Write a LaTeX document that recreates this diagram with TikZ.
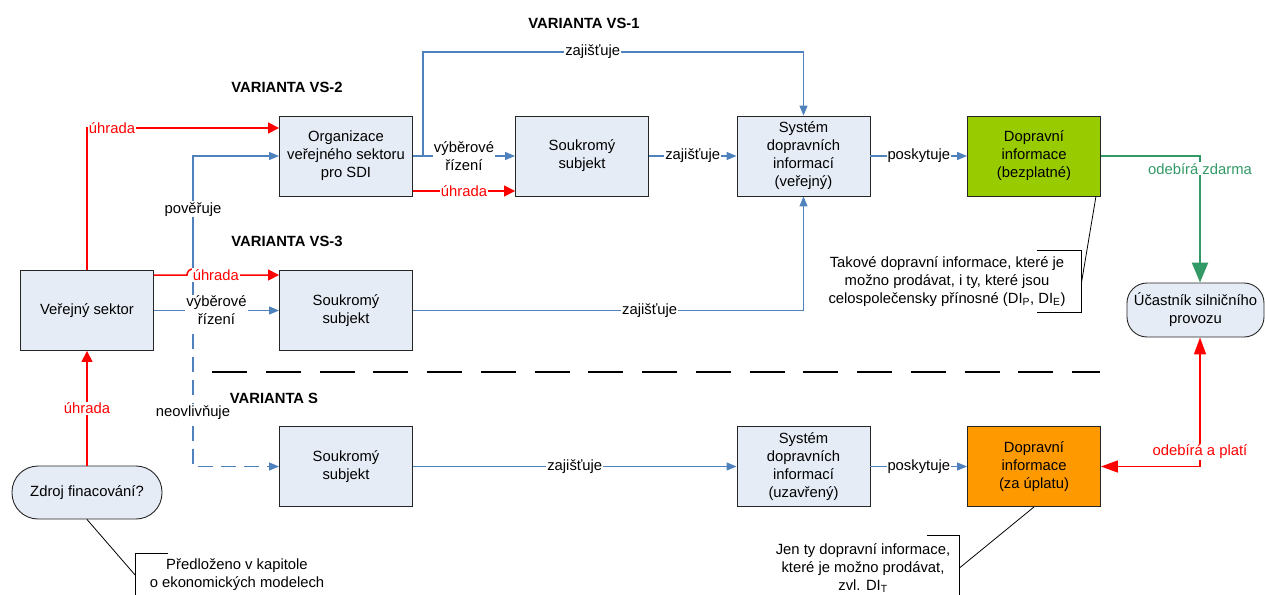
\documentclass[tikz,border=0pt]{standalone}
\usepackage{fontspec}
\setmainfont{Liberation Sans}
\usetikzlibrary{arrows.meta}
\definecolor{boxfill}{RGB}{230,236,246}
\definecolor{linkblue}{RGB}{79,129,189}
\definecolor{freegreen}{RGB}{153,204,0}
\definecolor{paidorange}{RGB}{255,153,0}
\definecolor{takegreen}{RGB}{51,153,102}
\begin{document}
\begin{tikzpicture}[x=1pt,y=-1pt,
  every node/.style={font=\fontsize{14.8}{18}\selectfont, align=center},
  box/.style={draw=black!85, line width=0.9pt, fill=boxfill,
    minimum width=133pt, minimum height=80pt, inner sep=2pt},
  pill/.style={draw=black!85, line width=0.9pt, fill=boxfill, inner sep=2pt},
  variant/.style={font=\fontsize{14.8}{18}\selectfont\bfseries},
  bl/.style={draw=linkblue, line width=1.2pt, -{Triangle[length=10pt,width=8pt]}},
  rd/.style={draw=red, line width=1.5pt, -{Triangle[length=11pt,width=11pt]}},
  lbl/.style={fill=white, inner sep=1pt},
  callout/.style={draw=black, line width=0.8pt}
]
\useasboundingbox (0,0) rectangle (1265,594);

% section headings
\node[variant] (hv1) at (584,23) {VARIANTA VS-1};
\node[variant] (hv2) at (287,87) {VARIANTA VS-2};
\node[variant] (hv3) at (287,241) {VARIANTA VS-3};
\node[variant] (hvs) at (274,398) {VARIANTA S};

% separator between public and private variants
\draw[black, line width=2pt, dash pattern=on 35pt off 18.75pt] (212,372) -- (1100,372);

% boxes
\node[box] (vs)   at (87,310.5)    {Veřejný sektor};
\node[box] (org)  at (346,156)     {Organizace\\veřejného sektoru\\pro SDI};
\node[box] (sub2) at (582,156)     {Soukromý\\subjekt};
\node[box] (sys1) at (803.5,156)   {Systém\\dopravních\\informací\\(veřejný)};
\node[box, fill=freegreen] (dig) at (1034,156) {Dopravní\\informace\\(bezplatné)};
\node[box] (sub3) at (346,310.5)   {Soukromý\\subjekt};
\node[box] (subS) at (346,466.5)   {Soukromý\\subjekt};
\node[box] (sysS) at (803.5,466.5) {Systém\\dopravních\\informací\\(uzavřený)};
\node[box, fill=paidorange] (dio) at (1034,466.5) {Dopravní\\informace\\(za úplatu)};
\node[pill, minimum width=137pt, minimum height=54pt, rounded corners=20pt] (ucast) at (1195.5,310) {Účastník silničního\\provozu};
\node[pill, minimum width=150pt, minimum height=53pt, rounded corners=26pt] (zdroj) at (87,492.5) {Zdroj finacování?};

% branch points
\coordinate (jB) at (193,310.5);
\coordinate (jT) at (423,156);
\coordinate (hopL) at (187,275);

% public sector assignments
\draw[bl] (jB) |- node[lbl, pos=0.328] {pověřuje} (org.west);
\draw[bl, dash pattern=on 15pt off 8pt] (jB) |- node[lbl, pos=0.326] {neovlivňuje} (subS.west);
\draw[bl] (vs.east) -- node[lbl] {výběrové\\řízení} (sub3.west);
\draw[rd] ([yshift=35.5pt]vs.east) -- (hopL) arc[start angle=180, end angle=0, radius=6pt]
  -- node[lbl, text=red, pos=0.21] {úhrada} ([yshift=35.5pt]sub3.west);
\draw[rd] (vs.north) |- node[lbl, text=red, pos=0.565] {úhrada} ([yshift=28pt]org.west);

% variant VS-1 / VS-2
\draw[bl] (jT) -- ++(0,-104) -| node[lbl, pos=0.223] {zajišťuje} (sys1.north);
\draw[bl] (org.east) -- node[lbl] {výběrové\\řízení} (sub2.west);
\draw[rd] ([yshift=-35pt]org.east) -- node[lbl, text=red] {úhrada} ([yshift=-35pt]sub2.west);
\draw[bl] (sub2.east) -- node[lbl] {zajišťuje} (sys1.west);
\draw[bl] (sys1.east) -- node[lbl] {poskytuje} (dig.west);

% variant VS-3
\draw[bl] (sub3.east) -| node[lbl, pos=0.303] {zajišťuje} (sys1.south);

% variant S
\draw[bl] (subS.east) -- node[lbl] {zajišťuje} (sysS.west);
\draw[bl] (sysS.east) -- node[lbl] {poskytuje} (dio.west);

% road user
\draw[draw=takegreen, line width=2.4pt, -{Triangle[length=20pt,width=16pt]}]
  (dig.east) -| node[lbl, text=takegreen, pos=0.55] {odebírá zdarma} ([xshift=4.5pt]ucast.north);
\draw[draw=red, line width=1.5pt, {Triangle[length=17pt,width=12pt]}-{Triangle[length=17pt,width=12pt]}]
  (dio.east) -| node[lbl, text=red, pos=0.556] {odebírá a platí} ([xshift=4.5pt]ucast.south);

% funding
\draw[rd] (zdroj.north) -- node[lbl, text=red] {úhrada} (vs.south);

% notes
\node[inner xsep=16pt, inner ysep=0pt, minimum height=61pt] (tk) at (947,281.5)
  {Takové dopravní informace, které je\\možno prodávat, i ty, které jsou\\celospolečensky přínosné (DI\textsubscript{P}, DI\textsubscript{E})};
\draw[callout] (tk.north east) ++(-45,0) -- (tk.north east) -- (tk.south east) -- ++(-45,0);
\draw[callout] (tk.east) -- ([xshift=-5pt]dig.south east);

\node[inner xsep=9pt, inner ysep=0pt, minimum height=64pt] (jt) at (863,568)
  {Jen ty dopravní informace,\\které je možno prodávat,\\zvl. DI\textsubscript{T}};
\draw[callout] (jt.north east) ++(-32,0) -- (jt.north east) -- (jt.south east);
\draw[callout] (jt.east) -- (dio.south);

\node[inner xsep=14.5pt, inner ysep=0pt, minimum height=42pt] (pr) at (237,575)
  {Předloženo v kapitole\\o ekonomických modelech};
\draw[callout] (pr.north west) ++(33,0) -- (pr.north west) -- (pr.south west);
\draw[callout] (zdroj.south) -- (pr.west);
\end{tikzpicture}
\end{document}
